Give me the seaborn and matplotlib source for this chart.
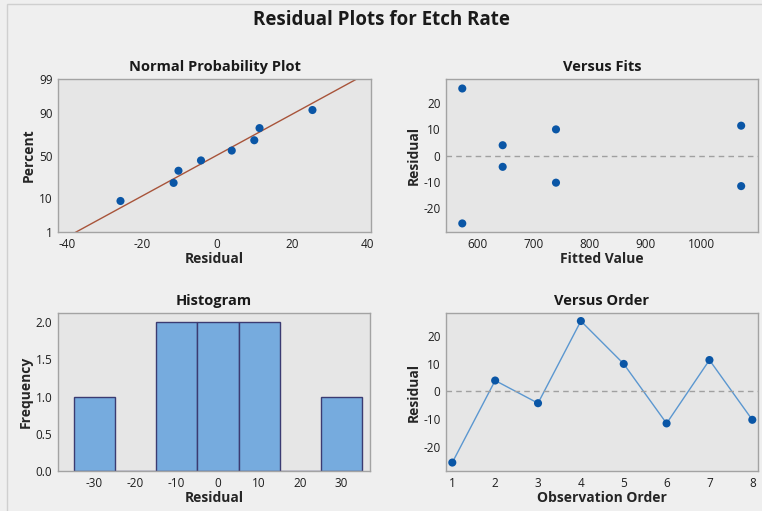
import seaborn as sns
import matplotlib.pyplot as plt
import matplotlib.ticker as mticker
from matplotlib.patches import Rectangle
import pandas as pd
import numpy as np
from statistics import NormalDist

# Residual data (observation order)
order = [1, 2, 3, 4, 5, 6, 7, 8]
residuals = [-25.75, 3.9, -4.3, 25.4, 9.9, -11.6, 11.3, -10.3]
fitted = [573, 645, 645, 573, 740, 1070, 1070, 740]
hist_edges = [-35, -25, -15, -5, 5, 15, 25, 35]
pct_ticks = [1, 10, 50, 90, 99]
fit_ticks = [600, 700, 800, 900, 1000]
res_ticks = [-20, -10, 0, 10, 20]

df = pd.DataFrame({'Order': order, 'Residual': residuals, 'Fitted': fitted})

# Normal probability positions (median ranks) and fitted normal line
nd = NormalDist()
srt = df.sort_values('Residual').reset_index(drop=True)
n = len(srt)
srt['Percent'] = (np.arange(1, n + 1) - 0.3) / (n + 0.4) * 100
mu, sd = df['Residual'].mean(), df['Residual'].std()
line_p = np.linspace(0.5, 99.5, 200)
fit_line = pd.DataFrame({'Percent': line_p,
                         'Residual': [mu + sd * nd.inv_cdf(p / 100) for p in line_p]})


def prob_fwd(p):
    p = np.clip(np.asarray(p, dtype=float), 1e-6, 100 - 1e-6)
    return np.array([nd.inv_cdf(v / 100) for v in p.ravel()]).reshape(p.shape)


def prob_inv(z):
    z = np.asarray(z, dtype=float)
    return np.array([nd.cdf(v) * 100 for v in z.ravel()]).reshape(z.shape)


BLUE = '#0a56a6'
FACE = '#e6e6e6'
BG = '#efefef'
SPINE = '#a3a3a3'

sns.set_style('white', rc={'axes.facecolor': FACE, 'figure.facecolor': BG,
                           'axes.edgecolor': SPINE})
plt.rcParams['font.family'] = ['Open Sans', 'DejaVu Sans']
plt.rcParams['axes.unicode_minus'] = False

fig = plt.figure(figsize=(7.62, 5.11), dpi=100)
fig.patches.append(Rectangle((7 / 762, -0.1), 1.2, 1.1 - 4 / 511, transform=fig.transFigure,
                             fill=False, edgecolor='#cfcfcf', linewidth=1))

W, H = 762, 511


def add_ax(left, right, top, bottom):
    return fig.add_axes([left / W, 1 - bottom / H, (right - left) / W, (bottom - top) / H])


ax1 = add_ax(58, 371, 79, 232)
ax2 = add_ax(446, 758, 79, 232)
ax3 = add_ax(58, 370, 313, 471)
ax4 = add_ax(446, 758, 313, 471)

# Normal probability plot
ax1.set_yscale('function', functions=(prob_fwd, prob_inv))
sns.lineplot(data=fit_line, x='Residual', y='Percent', ax=ax1, color='#a8543a',
             linewidth=1, estimator=None, sort=False)
sns.scatterplot(data=srt, x='Residual', y='Percent', ax=ax1, color=BLUE, s=34,
                edgecolor='none', zorder=3)
ax1.set_ylim(1, 99)
ax1.set_xlim(-42.4, 41)
ax1.set_yticks(pct_ticks)
ax1.yaxis.set_major_formatter(mticker.FormatStrFormatter('%g'))
ax1.yaxis.set_minor_locator(mticker.NullLocator())
ax1.set_xticks([-40, -20, 0, 20, 40])
ax1.set_title('Normal Probability Plot')
ax1.set_xlabel('Residual')
ax1.set_ylabel('Percent')

# Versus fits
sns.scatterplot(data=df, x='Fitted', y='Residual', ax=ax2, color=BLUE, s=34,
                edgecolor='none', zorder=3)
ax2.axhline(0, color='#a0a0a0', linestyle=(0, (4, 3)), linewidth=1)
ax2.set_xlim(544, 1100)
ax2.set_ylim(-29, 29)
ax2.set_xticks(fit_ticks)
ax2.set_yticks(res_ticks)
ax2.set_title('Versus Fits')
ax2.set_xlabel('Fitted Value')
ax2.set_ylabel('Residual')

# Histogram
sns.histplot(data=df, x='Residual', bins=hist_edges, ax=ax3, color='#76abde',
             edgecolor='#3b3b72', linewidth=1, alpha=1)
ax3.set_xlim(-38.8, 36.9)
ax3.set_ylim(0, 2.125)
ax3.set_xticks([-30, -20, -10, 0, 10, 20, 30])
ax3.set_yticks([0, 0.5, 1.0, 1.5, 2.0])
ax3.yaxis.set_major_formatter(mticker.FormatStrFormatter('%.1f'))
ax3.set_title('Histogram')
ax3.set_xlabel('Residual')
ax3.set_ylabel('Frequency')

# Versus order
sns.lineplot(data=df, x='Order', y='Residual', ax=ax4, color='#5b97d0', linewidth=1)
sns.scatterplot(data=df, x='Order', y='Residual', ax=ax4, color=BLUE, s=34,
                edgecolor='none', zorder=3)
ax4.axhline(0, color='#a0a0a0', linestyle=(0, (4, 3)), linewidth=1)
ax4.set_xlim(0.853, 8.133)
ax4.set_ylim(-28.8, 28.3)
ax4.set_xticks(order)
ax4.set_yticks(res_ticks)
ax4.set_title('Versus Order')
ax4.set_xlabel('Observation Order')
ax4.set_ylabel('Residual')

for ax in (ax1, ax2, ax3, ax4):
    ax.title.set_fontsize(10.5)
    ax.title.set_fontweight('bold')
    ax.title.set_color('#1a1a1a')
    ax.xaxis.label.set_fontsize(10)
    ax.yaxis.label.set_fontsize(10)
    ax.xaxis.label.set_fontweight('bold')
    ax.yaxis.label.set_fontweight('bold')
    ax.xaxis.label.set_color('#262626')
    ax.yaxis.label.set_color('#262626')
    ax.xaxis.labelpad = 1
    ax.yaxis.labelpad = 2
    ax.tick_params(direction='out', length=2.5, width=0.8, color=SPINE,
                   labelsize=8.5, labelcolor='#1e1e1e', pad=1.5)
    for sp in ax.spines.values():
        sp.set_color(SPINE)
        sp.set_linewidth(1)

fig.suptitle('Residual Plots for Etch Rate', fontsize=13.5, fontweight='bold',
             color='#1a1a1a', y=1 - 20 / H, va='center')

plt.savefig('out.png', dpi=100)
plt.close()
